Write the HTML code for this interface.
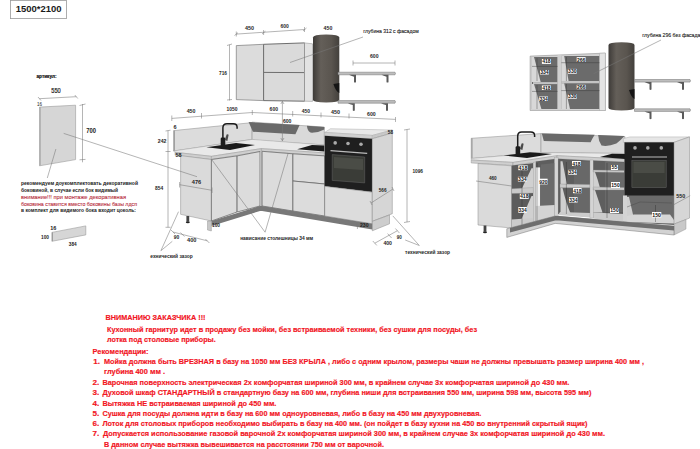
<!DOCTYPE html>
<html><head><meta charset="utf-8">
<style>
html,body{margin:0;padding:0;background:#fff;}
body{width:700px;height:449px;overflow:hidden;}
svg{display:block;}
text{font-family:"Liberation Sans",sans-serif;}
.d{font-size:5.5px;fill:#1e1e1e;font-weight:bold;}
.r{font-size:8.1px;fill:#f2161f;font-weight:bold;stroke:#f2161f;stroke-width:0.18px;}
.ln{stroke:#777;stroke-width:0.55;fill:none;}
.pn{fill:#dadada;stroke:#8a8a8a;stroke-width:0.5;}
</style></head><body>
<svg width="700" height="449" viewBox="0 0 700 449">
<!-- top-left size box -->
<rect x="10.5" y="0.4" width="56" height="18.2" fill="#fff" stroke="#999" stroke-width="0.8"/>
<text x="15.8" y="12.4" font-size="9.9" font-weight="bold" fill="#1a1a1a" textLength="45.8" lengthAdjust="spacingAndGlyphs">1500*2100</text>

<!-- left panel -->
<text x="36.5" y="78" font-size="5" font-weight="bold" fill="#111" stroke="#111" stroke-width="0.2" textLength="20" lengthAdjust="spacingAndGlyphs">артикул:</text>
<text x="51.3" y="92.8" font-size="6.8" fill="#1a1a1a" stroke="#1a1a1a" stroke-width="0.2" textLength="9.4" lengthAdjust="spacingAndGlyphs">550</text>
<path class="ln" d="M39.3 98.7 L76.3 96.7 M38 97 L41 100.5 M74.8 95 L77.8 98.5"/>
<text x="37" y="106" font-size="4.5" fill="#222">16</text>
<polygon points="39.5,107.1 75.6,105.2 75.6,159.6 39.5,165.8" fill="#d6d6d6" stroke="#9a9a9a" stroke-width="0.6"/>
<path d="M39.5 107.1 L40.8 107 L40.8 165.6 L39.5 165.8 Z" fill="#acacac"/>
<path class="ln" d="M82.5 104 L82.5 162.3 M79.5 105.5 L85.5 104 M79.5 159.8 L85.5 159.4"/>
<text x="86.3" y="133" font-size="6.5" font-weight="bold" fill="#222" textLength="9.8" lengthAdjust="spacingAndGlyphs">700</text>
<path class="ln" d="M55.9 149 L47.3 178"/>
<g font-size="5.5" font-weight="bold">
<text x="21" y="185" fill="#1a1a1a" textLength="117" lengthAdjust="spacingAndGlyphs">рекомендуем доукомплектовать декоративной</text>
<text x="21" y="191.6" fill="#1a1a1a" textLength="97" lengthAdjust="spacingAndGlyphs">боковиной, в случае если бок видимый</text>
<text x="21" y="198.7" font-weight="normal" fill="#b8303e" stroke="#b8303e" stroke-width="0.1" textLength="105" lengthAdjust="spacingAndGlyphs">внимание!!! при монтаже декоративная</text>
<text x="21" y="205.5" font-weight="normal" fill="#b8303e" stroke="#b8303e" stroke-width="0.1" textLength="116" lengthAdjust="spacingAndGlyphs">боковина ставится вместо боковины базы лдсп</text>
<text x="21" y="211.5" fill="#1a1a1a" textLength="115" lengthAdjust="spacingAndGlyphs">в комплект для видимого бока входит цоколь:</text>
</g>
<polygon points="51.9,232.4 85.8,225.9 85.8,234.9 51.9,241.3" fill="#d6d6d6" stroke="#9a9a9a" stroke-width="0.6"/>
<path d="M51.9 232.4 L53 232.2 L53 241.1 L51.9 241.3 Z" fill="#9c9c9c"/>
<text x="50.2" y="230.4" font-size="5.5" font-weight="bold" fill="#222">16</text>
<text x="41" y="238.8" font-size="5.5" font-weight="bold" fill="#222" textLength="8" lengthAdjust="spacingAndGlyphs">100</text>
<text x="68.8" y="245.6" font-size="5.5" font-weight="bold" fill="#222" textLength="7.8" lengthAdjust="spacingAndGlyphs">384</text>


<!-- ===== CENTER KITCHEN ===== -->
<defs>
<linearGradient id="hood" x1="0" x2="1" y1="0" y2="0">
<stop offset="0" stop-color="#3e3b38"/><stop offset="0.3" stop-color="#645f59"/><stop offset="0.7" stop-color="#5a554f"/><stop offset="1" stop-color="#43403c"/>
</linearGradient>
</defs>
<!-- wall cabinets -->
<polygon points="236.3,45.6 263.6,44.3 263.6,100.6 236.3,99.6" fill="#dcdcdc" stroke="#7a7a7a" stroke-width="0.7"/>
<polygon points="263.6,44.3 304.5,42.9 304.5,101.2 263.6,100.6" fill="#dadada" stroke="#6e6e6e" stroke-width="1"/>
<path d="M263.6 72.4 L304.5 72.6" stroke="#6e6e6e" stroke-width="1"/>
<polygon points="304.5,42.9 312.5,43.8 312.5,101.4 304.5,101.2" fill="#e2e2e2" stroke="#888" stroke-width="0.5"/>
<!-- hood -->
<path d="M313 37.5 Q313 34.6 326.2 34.6 Q339.3 34.6 339.3 37.5 L339.3 100 Q339.3 102.4 326.2 102.4 Q313 102.4 313 100 Z" fill="url(#hood)"/>
<path d="M333.4 84 L339.3 83 L339.3 93 Q336 92 333.4 84 Z" fill="#151515"/>
<!-- shelves -->
<path d="M338 72.2 L395 72.2 L395.5 73.4 L395 74.8 L338 74.8 Z" fill="#bdbdbd" stroke="#6e6e6e" stroke-width="0.5"/>
<path d="M349 74.8 L356 74.8 L356 82.2 Q355 83.0 354 82.2 L354 76.7 Q351 75.8 349 74.8 Z" fill="#5a5a5a"/>
<path d="M381.5 74.8 L388.5 74.8 L388.5 82.2 Q387.5 83.0 386.5 82.2 L386.5 76.7 Q383.5 75.8 381.5 74.8 Z" fill="#5a5a5a"/>
<path d="M338 100.6 L395 100.6 L395.5 101.8 L395 103.19999999999999 L338 103.19999999999999 Z" fill="#bdbdbd" stroke="#6e6e6e" stroke-width="0.5"/>
<path d="M347.8 103.19999999999999 L354.8 103.19999999999999 L354.8 110.6 Q353.8 111.39999999999999 352.8 110.6 L352.8 105.1 Q349.8 104.19999999999999 347.8 103.19999999999999 Z" fill="#5a5a5a"/>
<path d="M381 103.19999999999999 L388 103.19999999999999 L388 110.6 Q387 111.39999999999999 386 110.6 L386 105.1 Q383 104.19999999999999 381 103.19999999999999 Z" fill="#5a5a5a"/>
<!-- wall dims -->
<path class="ln" d="M236.3 34.1 L304.5 29.5 M236.3 31.5 L236.3 36.5 M263.6 30 L263.6 35 M304.5 27 L304.5 32 M234.5 35.5 L238 32.7 M262 34 L265.5 31.2 M303 31 L306.5 28"/>
<text x="245" y="30.2" class="d" textLength="9" lengthAdjust="spacingAndGlyphs">450</text>
<text x="280.4" y="27.6" class="d" textLength="8.3" lengthAdjust="spacingAndGlyphs">600</text>
<text x="323.6" y="30.2" class="d" textLength="8.7" lengthAdjust="spacingAndGlyphs">450</text>
<path class="ln" d="M229.5 44.7 L229.5 100.5 M227 45.5 L232 44 M227 100 L232 99.5"/>
<text x="219" y="75" class="d" textLength="8" lengthAdjust="spacingAndGlyphs">716</text>
<text x="363.2" y="32.7" font-size="6" fill="#1a1a1a" stroke="#1a1a1a" stroke-width="0.12" textLength="55.5" lengthAdjust="spacingAndGlyphs">глубина 312 с фасадом</text>
<path class="ln" d="M363 37 L290 62.5"/>
<path class="ln" d="M353 63 L395 63 M353 60.5 L353 65.5 M395 60.5 L395 65.5"/>
<text x="370" y="58" class="d" textLength="8.5" lengthAdjust="spacingAndGlyphs">600</text>

<!-- base top dims -->
<path class="ln" d="M171.8 118.4 L252.3 112.5 L395.5 119.4 M171.8 115.5 L171.8 121 M201.5 113 L201.5 118.5 M252.3 110 L252.3 115 M292.7 111 L292.7 116.5 M321 112.5 L321 117.5 M349 113.5 L349 118.5 M395.5 117 L395.5 122"/>
<text x="186.7" y="113.4" class="d" textLength="8.8" lengthAdjust="spacingAndGlyphs">450</text>
<text x="226.4" y="110.9" class="d" textLength="11" lengthAdjust="spacingAndGlyphs">1050</text>
<text x="269.6" y="111" class="d" textLength="8.4" lengthAdjust="spacingAndGlyphs">600</text>
<text x="301.7" y="113" class="d" textLength="8.3" lengthAdjust="spacingAndGlyphs">450</text>
<text x="331" y="114.3" class="d" textLength="9" lengthAdjust="spacingAndGlyphs">450</text>
<text x="367" y="115.6" class="d" textLength="8.7" lengthAdjust="spacingAndGlyphs">600</text>

<!-- left backsplash -->
<polygon points="173.6,130.6 252.1,122.6 252.1,139.4 173.6,151" fill="#dcdcdc" stroke="#8a8a8a" stroke-width="0.5"/>
<path d="M173.6 130.6 L175 130.5 L175 151 L173.6 151 Z" fill="#a0a0a0"/>
<!-- back wall -->
<polygon points="252.1,122.1 324.3,127.1 324.3,145 252.1,140" fill="#d9d9d9" stroke="#888" stroke-width="0.5"/>
<path d="M248.6 122.1 L299.6 125.1 Q297.5 130 295.4 134.2 L252.9 131.8 Z" fill="#6a6a6a"/>
<path d="M306.9 125.7 L324.3 127 L324.3 129.5 Q318 133 310.5 132.6 Q307.3 130.5 306.9 125.7 Z" fill="#6a6a6a"/>
<!-- countertop surface -->
<polygon points="173.6,151 252.1,139.4 324.3,145 324.3,152.9 261.4,148.6 211.4,156.3 175,152.3" fill="#e9e9e9" stroke="#999" stroke-width="0.4"/>
<!-- countertop front faces -->
<polygon points="175,152.3 211.4,156.3 211.4,159.5 175,155.3" fill="#cfcfcf" stroke="#888" stroke-width="0.4"/>
<polygon points="211.4,156.3 261.4,148.6 261.4,151.5 211.4,159.5" fill="#cfcfcf" stroke="#888" stroke-width="0.4"/>
<polygon points="261.4,148.6 324.3,152.9 324.3,155.9 261.4,151.3" fill="#cfcfcf" stroke="#888" stroke-width="0.4"/>
<!-- sink -->
<polygon points="206.4,147.3 236,143 255,145 230,150" fill="#1a1a1a"/>
<!-- faucet -->
<path d="M222.9 144.4 L222.9 127.8 Q222.9 123.7 227 123.7 L233.3 123.7 Q237.1 123.7 237.1 127.2 L237.1 128.8" stroke="#1c1c1c" stroke-width="1.5" fill="none"/>
<rect x="220.7" y="137.5" width="4.6" height="8.5" rx="1.2" fill="#1c1c1c"/>
<path d="M224.8 140 L226.6 134.5 Q227.8 133.8 228.6 134.8 L227.4 141 Z" fill="#4a4a4a"/>
<!-- hob -->
<polygon points="297.1,149.3 312,145 324.3,145.5 324.3,151.4" fill="#1a1a1a"/>
<!-- base cabinets -->
<polygon points="180.6,155.6 211.4,159.5 211.4,221 180.6,214.3" fill="#dadada" stroke="#8a8a8a" stroke-width="0.5"/>
<polygon points="211.4,159.5 237.1,155.9 237.1,212 211.4,221" fill="#dcdcdc" stroke="#656565" stroke-width="0.75"/>
<polygon points="237.1,155.9 260,151.5 260,206 237.1,212" fill="#dcdcdc" stroke="#656565" stroke-width="0.75"/>
<polygon points="260,151.5 262.1,151.5 262.1,206 260,206" fill="#bdbdbd"/>
<polygon points="262.1,151.3 292.9,153.8 292.9,211 262.1,206" fill="#dcdcdc" stroke="#656565" stroke-width="0.75"/>
<polygon points="292.9,153.8 324.7,155.9 324.7,184 292.9,181" fill="#dcdcdc" stroke="#656565" stroke-width="0.75"/>
<polygon points="292.9,181 324.7,184 324.7,216 292.9,211" fill="#dcdcdc" stroke="#656565" stroke-width="0.75"/>
<!-- oven column -->
<polygon points="324.7,132.4 330.5,128.7 392.3,130 372.3,135.4" fill="#e8e8e8" stroke="#999" stroke-width="0.4"/>
<polygon points="324.7,132.4 372.3,135.4 372.3,138.7 324.7,135.7" fill="#d0d0d0" stroke="#999" stroke-width="0.3"/>
<polygon points="372.3,135.4 392.3,130 392.3,133 372.3,138.7" fill="#c8c8c8" stroke="#999" stroke-width="0.3"/>
<polygon points="324.7,135.7 372.3,138.7 372.3,192.1 324.7,186.3" fill="#1f1f1f"/>
<polygon points="332.2,154.6 364.7,157 364.7,182.9 332.2,180.4" fill="#3a3c37" stroke="#666" stroke-width="0.5"/>
<polygon points="334,157 363,159 363,170 334,168" fill="#4a4c46"/>
<path d="M330.5 150.7 L367.2 153.4" stroke="#bbb" stroke-width="1.2"/>
<circle cx="335.2" cy="142.9" r="1.8" fill="#aaa"/><circle cx="348" cy="143.5" r="1.8" fill="#aaa"/><circle cx="361" cy="144.3" r="1.8" fill="#aaa"/>
<polygon points="324.7,186.3 372.3,192.1 372.3,223.8 324.7,216" fill="#dcdcdc" stroke="#777" stroke-width="0.5"/>
<polygon points="372.3,138.7 392.3,133 392.3,213.7 372.3,221.3" fill="#d6d6d6" stroke="#888" stroke-width="0.5"/>
<polygon points="372.3,221.3 389.5,215 389.5,223.8 372.3,230.8" fill="#cdcdcd" stroke="#888" stroke-width="0.5"/>
<!-- plinth -->
<polygon points="211.4,221 260,206 262.1,206 372.3,223.8 372.3,229.5 262.1,211 260,211 211.4,226" fill="#787878"/>
<polygon points="207.5,221 211.4,221 211.4,231 207.5,230" fill="#c8c8c8" stroke="#888" stroke-width="0.4"/>
<rect x="186.4" y="216" width="2.8" height="5.5" fill="#444"/><ellipse cx="187.8" cy="222.3" rx="2" ry="1" fill="#222"/>
<!-- base dims -->
<path class="ln" d="M63.7 133.4 L197 176.7"/>
<path class="ln" d="M282.4 101.4 L282.4 140.7 M280.8 104 L282.4 101.4 L284 104 M280.8 138 L282.4 140.7 L284 138"/>
<text x="282.9" y="122.9" class="d" textLength="8.5" lengthAdjust="spacingAndGlyphs">600</text>
<path class="ln" d="M168 130.6 L168 227.3 M165.5 131 L170.5 130.2 M165.5 151.5 L170.5 151.5 M165.5 227.3 L170.5 227.3"/>
<text x="173.4" y="129" class="d">6</text>
<text x="157.8" y="142.6" class="d" textLength="8.6" lengthAdjust="spacingAndGlyphs">242</text>
<text x="175.5" y="156.5" class="d" font-size="4.5">58</text>
<text x="155.1" y="189.6" class="d" textLength="8.1" lengthAdjust="spacingAndGlyphs">854</text>
<path class="ln" d="M179.6 184.7 L212 190.3 M179.6 182 L179.6 187.5 M212 187.5 L212 193"/>
<text x="191.8" y="183.9" class="d" textLength="9.4" lengthAdjust="spacingAndGlyphs">476</text>
<text x="212" y="226.8" class="d" textLength="8" lengthAdjust="spacingAndGlyphs">100</text>
<path class="ln" d="M173 232 L207.4 240.9 M171 230 L175 234 M180.4 232.5 L184.4 236.5 M205.4 239 L209.4 243"/>
<text x="173.8" y="239" class="d" textLength="5.5" lengthAdjust="spacingAndGlyphs">90</text>
<text x="187" y="242.4" class="d" textLength="9.4" lengthAdjust="spacingAndGlyphs">400</text>
<path class="ln" d="M178.5 211.7 L160.9 250.7 L172.3 241.3"/>
<text x="150.3" y="257.9" class="d" textLength="42.4" lengthAdjust="spacingAndGlyphs">ехнический зазор</text>
<path class="ln" d="M212 160 L265.1 232.2 L288.2 153"/>
<text x="240.2" y="239.6" class="d" textLength="73" lengthAdjust="spacingAndGlyphs">нависание столешницы 34 мм</text>
<text x="387.8" y="134.3" class="d" textLength="5.2" lengthAdjust="spacingAndGlyphs">58</text>
<path class="ln" d="M407 129.6 L407 222.1 M404 130 L410 129 M404 222.5 L410 221.5"/>
<text x="412.4" y="172.7" class="d" textLength="10.6" lengthAdjust="spacingAndGlyphs">1096</text>
<path class="ln" d="M371 203 L393 189 M370 201 L372 205 M392 187 L394 191"/>
<text x="378.7" y="191.7" class="d" textLength="7.8" lengthAdjust="spacingAndGlyphs">566</text>
<text x="360" y="227" class="d" textLength="8.6" lengthAdjust="spacingAndGlyphs">230</text>
<path class="ln" d="M357.4 222 L357.4 229"/>
<path class="ln" d="M374.8 243.2 L397.4 230.7 M372.8 241 L376.8 245.4 M387.6 233.6 L391.6 238 M395.4 228.5 L399.4 233"/>
<text x="396.7" y="239.3" class="d" textLength="5.1" lengthAdjust="spacingAndGlyphs">90</text>
<text x="383.4" y="245.2" class="d" textLength="8.6" lengthAdjust="spacingAndGlyphs">400</text>
<path class="ln" d="M392.8 215.9 L419.3 245.5 L405.2 240"/>
<text x="405.1" y="253.8" class="d" textLength="45" lengthAdjust="spacingAndGlyphs">технический зазор</text>


<!-- ===== RIGHT KITCHEN ===== -->
<!-- open wall cabinets -->
<polygon points="530.1,56.1 605.4,53.1 605.4,110.5 530.1,110.5" fill="#d2d2d2" stroke="#888" stroke-width="0.5"/>
<rect x="531.9" y="57" width="25.7" height="52" fill="#6b6b6b"/>
<rect x="561.3" y="56" width="38.2" height="53" fill="#6b6b6b"/>
<polygon points="531.9,57 534,57 540.7,82 531.9,82" fill="#d8d8d8"/>
<polygon points="531.9,84 534,84 541.4,109 531.9,109" fill="#d8d8d8"/>
<polygon points="561.3,56 564.2,56 568.6,81 561.3,81" fill="#d8d8d8"/>
<polygon points="561.3,83.3 564.2,83.3 570,109 561.3,109" fill="#d8d8d8"/>
<rect x="533" y="82.1" width="24.6" height="2" fill="#c4c4c4"/>
<rect x="561.3" y="81" width="38" height="2.3" fill="#c4c4c4"/>
<rect x="557.6" y="55" width="3.7" height="55" fill="#d0d0d0"/>
<polygon points="599.5,53.3 605.4,53.1 605.4,110.5 599.5,110.5" fill="#e4e4e4" stroke="#999" stroke-width="0.4"/>
<path d="M532 66.4 L557.6 66.4 M532 91.4 L557.6 91.4 M561.3 62.7 L599.5 62.7 M561.3 90.6 L599.5 90.6 M537 58 L537 81 M537 85 L537 109 M566.4 57 L566.4 81 M566.4 84 L566.4 109" stroke="#333" stroke-width="0.4"/>
<g font-size="5.2" font-weight="bold" fill="#111">
<rect x="541.9" y="59" width="9.1" height="4.9" fill="#fff"/><text x="542.2" y="63.3" textLength="8.5" lengthAdjust="spacingAndGlyphs">418</text>
<rect x="540" y="70" width="8.8" height="4.5" fill="#fff"/><text x="540.2" y="74" textLength="8.4" lengthAdjust="spacingAndGlyphs">334</text>
<rect x="541.9" y="85.5" width="9.1" height="4.5" fill="#fff"/><text x="542.2" y="89.6" textLength="8.5" lengthAdjust="spacingAndGlyphs">418</text>
<rect x="539.2" y="96.5" width="8.8" height="4.5" fill="#fff"/><text x="539.4" y="100.6" textLength="8.4" lengthAdjust="spacingAndGlyphs">334</text>
<rect x="576.7" y="57.1" width="8.9" height="4.9" fill="#fff"/><text x="577" y="61.5" textLength="8.4" lengthAdjust="spacingAndGlyphs">266</text>
<rect x="567.9" y="68.9" width="8.8" height="4.8" fill="#fff"/><text x="568.1" y="73.2" textLength="8.4" lengthAdjust="spacingAndGlyphs">330</text>
<rect x="576.7" y="84.8" width="8.9" height="4.4" fill="#fff"/><text x="577" y="88.8" textLength="8.4" lengthAdjust="spacingAndGlyphs">266</text>
<rect x="567.9" y="94.3" width="8.8" height="4.4" fill="#fff"/><text x="568.1" y="98.3" textLength="8.4" lengthAdjust="spacingAndGlyphs">330</text>
</g>
<!-- hood right -->
<path d="M608.5 45 Q608.5 42.2 621.5 42.2 Q634.5 42.2 634.5 45 L634.5 108 Q634.5 110.4 621.5 110.4 Q608.5 110.4 608.5 108 Z" fill="url(#hood)"/>
<path d="M629 90 L634.5 89 L634.5 99 Q631.5 98 629 90 Z" fill="#151515"/>
<text x="642.3" y="36.9" font-size="6" fill="#1a1a1a" stroke="#1a1a1a" stroke-width="0.12" textLength="58" lengthAdjust="spacingAndGlyphs">глубина 296 без фасада</text>
<path class="ln" d="M661 40 L593.6 73.7"/>
<!-- shelves right -->
<path d="M634.5 79.5 L690 79.5 L690.5 80.7 L690 82.1 L634.5 82.1 Z" fill="#bdbdbd" stroke="#6e6e6e" stroke-width="0.5"/>
<path d="M644.5 82.1 L651.5 82.1 L651.5 89.5 Q650.5 90.3 649.5 89.5 L649.5 84.0 Q646.5 83.1 644.5 82.1 Z" fill="#5a5a5a"/>
<path d="M677 82.1 L684 82.1 L684 89.5 Q683 90.3 682 89.5 L682 84.0 Q679 83.1 677 82.1 Z" fill="#5a5a5a"/>
<path d="M634.5 108.8 L690 108.8 L690.5 110.0 L690 111.39999999999999 L634.5 111.39999999999999 Z" fill="#bdbdbd" stroke="#6e6e6e" stroke-width="0.5"/>
<path d="M644.5 111.39999999999999 L651.5 111.39999999999999 L651.5 118.8 Q650.5 119.6 649.5 118.8 L649.5 113.3 Q646.5 112.39999999999999 644.5 111.39999999999999 Z" fill="#5a5a5a"/>
<path d="M677 111.39999999999999 L684 111.39999999999999 L684 118.8 Q683 119.6 682 118.8 L682 113.3 Q679 112.39999999999999 677 111.39999999999999 Z" fill="#5a5a5a"/>

<!-- left backsplash right -->
<polygon points="471.2,138.3 541,133.6 541,152.5 471.2,158.5" fill="#dcdcdc" stroke="#8a8a8a" stroke-width="0.5"/>
<path d="M471.2 138.3 L472.6 138.2 L472.6 158.4 L471.2 158.5 Z" fill="#a0a0a0"/>
<!-- back wall right -->
<polygon points="541,133.6 625,136.7 625,153.5 541,152.5" fill="#d9d9d9" stroke="#888" stroke-width="0.5"/>
<path d="M541.8 133.4 L594.7 134.8 Q592 139 590.6 142.2 L543.8 140.9 Z" fill="#6a6a6a"/>
<path d="M598.1 135 L624.6 136.1 Q620 141 616.4 143.6 Q608 147 601.5 145.6 Q598.5 141 598.1 135 Z" fill="#6a6a6a"/>
<!-- countertop -->
<polygon points="471.2,158.5 541,152.5 625,153.5 625,159 557,155.7 513,162.4 471.2,160" fill="#e9e9e9" stroke="#999" stroke-width="0.4"/>
<polygon points="471.2,160 513,162.4 513,165.5 471.2,163" fill="#cfcfcf" stroke="#888" stroke-width="0.4"/>
<polygon points="513,162.4 557,155.7 557,158.8 513,165.5" fill="#cfcfcf" stroke="#888" stroke-width="0.4"/>
<polygon points="557,155.7 625,159 625,162 557,158.8" fill="#cfcfcf" stroke="#888" stroke-width="0.4"/>
<polygon points="503.7,155.4 530,152.2 552,154 527,158" fill="#1a1a1a"/>
<path d="M517.7 154.6 L517.7 136.2 Q517.7 132 521.8 132 L530.8 132 Q534.6 132 534.6 135.5 L534.6 137" stroke="#1c1c1c" stroke-width="1.5" fill="none"/>
<rect x="515.6" y="146.2" width="4.6" height="9" rx="1.2" fill="#1c1c1c"/>
<path d="M519.8 149 L521.6 143.5 Q522.8 142.8 523.6 143.8 L522.4 150 Z" fill="#4a4a4a"/>
<polygon points="600,157 612,153.8 625,154 625,159" fill="#1a1a1a"/>
<!-- left end panel -->
<polygon points="478,163.5 511.6,165.8 511.6,228 478,225" fill="#dadada" stroke="#8a8a8a" stroke-width="0.5"/>
<rect x="483.6" y="225.5" width="2.8" height="6" fill="#444"/><ellipse cx="485" cy="232.3" rx="2" ry="1" fill="#222"/>
<!-- corner open cabinet -->
<polygon points="511.6,165.5 533.4,163 533.4,224 511.6,228" fill="#5c5c5c"/>
<polygon points="531.5,168.3 533.4,168.3 533.4,189.7 521.3,189.7" fill="#d0d0d0"/>
<polygon points="531.5,196 533.4,196 533.4,219.6 521.3,219.6" fill="#d0d0d0"/>
<polygon points="511.6,188.8 533.4,187.5 533.4,193.1 511.6,193.5" fill="#cacaca" stroke="#888" stroke-width="0.3"/>
<polygon points="511.6,219.6 533.4,218 533.4,224 511.6,228" fill="#cccccc"/>
<rect x="533.4" y="162.5" width="2.4" height="62" fill="#d2d2d2" stroke="#999" stroke-width="0.3"/>
<polygon points="535.8,161.5 554.7,159 554.7,218 535.8,224" fill="#5e5e5e"/>
<polygon points="541,164.5 554.7,163 554.7,206.8 541,206.8" fill="#6a6a6a"/>
<rect x="535.8" y="167.4" width="4.3" height="38.6" fill="#f0f0f0"/>
<polygon points="535.8,206 554.7,205 554.7,218 535.8,224" fill="#d4d4d4"/>
<rect x="554.7" y="157.5" width="3.4" height="60" fill="#d4d4d4" stroke="#999" stroke-width="0.3"/>
<!-- right run open cabinets -->
<polygon points="558.1,158.8 590,160.5 590,217 558.1,214" fill="#5e5e5e"/>
<polygon points="574,161 590,161.5 590,184 574,184" fill="#686868"/>
<polygon points="574,188 590,188 590,213 574,213" fill="#686868"/>
<path d="M560.5 161.2 L562.5 161.2 Q565 175 567 184 L560.5 184 Z" fill="#d0d0d0"/>
<path d="M560.5 187.8 L562.5 187.8 Q566 203 570.6 213.5 L560.5 213.5 Z" fill="#d0d0d0"/>
<polygon points="560,184 590,184.5 590,187.8 560,187.8" fill="#cacaca" stroke="#888" stroke-width="0.3"/>
<polygon points="560,212 590,213 590,217.5 558.1,215" fill="#cccccc"/>
<rect x="590" y="160" width="3.2" height="58" fill="#d4d4d4" stroke="#999" stroke-width="0.3"/>
<polygon points="593.2,160.5 624.5,162 624.5,221 593.2,218" fill="#5e5e5e"/>
<polygon points="605,162 624.5,162.5 624.5,212 605,212" fill="#6a6a6a"/>
<path d="M593.2 172 L595 172 Q598 180 600 188 L593.2 188 Z" fill="#d0d0d0"/>
<path d="M593.2 190 L595 190 Q599 202 602.5 212.5 L593.2 212.5 Z" fill="#d0d0d0"/>
<polygon points="593.2,170 624.5,170.5 624.5,172.5 593.2,172" fill="#c8c8c8" stroke="#888" stroke-width="0.3"/>
<polygon points="593.2,187 624.5,187.5 624.5,190 593.2,190" fill="#c8c8c8" stroke="#888" stroke-width="0.3"/>
<polygon points="593.2,212.5 624.5,214 624.5,221.5 593.2,218.5" fill="#cccccc"/>
<!-- oven column right -->
<polygon points="623.3,138.6 630,136.9 689.5,136.9 674,142.3 623.3,142.3" fill="#e6e6e6" stroke="#999" stroke-width="0.4"/>
<rect x="624.5" y="142.3" width="49.5" height="53.9" fill="#1f1f1f"/>
<rect x="631.9" y="160.6" width="34.3" height="27" fill="#3a3c37" stroke="#666" stroke-width="0.5"/>
<rect x="633.5" y="162" width="31" height="11" fill="#4a4c46"/>
<path d="M632 157 L667 157" stroke="#bbb" stroke-width="1.2"/>
<circle cx="635" cy="147.9" r="1.8" fill="#aaa"/><circle cx="647.8" cy="147.9" r="1.8" fill="#aaa"/><circle cx="661.3" cy="147.9" r="1.8" fill="#aaa"/>
<polygon points="624.5,195.5 674,195.5 674,225 624.5,222" fill="#6a6a6a"/>
<rect x="623" y="195.5" width="4" height="27" fill="#d4d4d4"/>
<polygon points="627,197 629,197 634,219 627,219" fill="#d0d0d0"/>
<polygon points="627,216 634,214.5 670,214.5 674,220 674,223.5 627,222" fill="#d6d6d6"/>
<path d="M627 207 L640 202 L672 203" stroke="#444" stroke-width="0.4" fill="none"/>
<polygon points="674,142.3 689.5,136.9 689.5,218.1 674,224.1" fill="#d6d6d6" stroke="#888" stroke-width="0.5"/>
<polygon points="674,224.1 686,219.5 686,229 674,235" fill="#c9c9c9" stroke="#888" stroke-width="0.4"/>
<path d="M537 163 L537 225 M566.4 162 L566.4 214 M522 166 L522 225 M607 163 L607 218 M655.5 205 L655.5 222" stroke="#222" stroke-width="0.35"/>
<!-- plinth right -->
<polygon points="506.8,228.8 555.2,216 624.5,222 674,226.1 674,235 624.5,230 555.2,223.4 506.8,237.4" fill="#d2d2d2" stroke="#777" stroke-width="0.5"/>
<polygon points="510,228 555.2,216 559,216 674,226.1 674,230.5 559,220.5 555.2,220.5 510,232.5" fill="#6e6e6e"/>
<g font-size="5.2" font-weight="bold" fill="#111">
<rect x="518.3" y="165.4" width="9.4" height="4.8" fill="#fff"/><text x="518.6" y="169.6" textLength="8.8" lengthAdjust="spacingAndGlyphs">418</text>
<rect x="517.9" y="176.8" width="8.9" height="4.7" fill="#fff"/><text x="518.1" y="180.9" textLength="8.5" lengthAdjust="spacingAndGlyphs">334</text>
<rect x="539" y="178.7" width="8.6" height="5.7" fill="#fff"/><text x="539.2" y="183.5" textLength="8.2" lengthAdjust="spacingAndGlyphs">920</text>
<rect x="519.8" y="193.8" width="8.9" height="5.1" fill="#fff"/><text x="520" y="198.3" textLength="8.5" lengthAdjust="spacingAndGlyphs">418</text>
<rect x="518.3" y="207" width="8.5" height="5.8" fill="#fff"/><text x="518.5" y="211.8" textLength="8.1" lengthAdjust="spacingAndGlyphs">334</text>
<rect x="572" y="161" width="8.8" height="5" fill="#fff"/><text x="572.2" y="165.5" textLength="8.4" lengthAdjust="spacingAndGlyphs">418</text>
<rect x="568.3" y="169.8" width="8.6" height="4.9" fill="#fff"/><text x="568.5" y="174.3" textLength="8.2" lengthAdjust="spacingAndGlyphs">334</text>
<rect x="573" y="188" width="8.6" height="5.2" fill="#fff"/><text x="573.2" y="192.7" textLength="8.2" lengthAdjust="spacingAndGlyphs">418</text>
<rect x="569" y="197.2" width="8.6" height="5.3" fill="#fff"/><text x="569.2" y="202" textLength="8.2" lengthAdjust="spacingAndGlyphs">334</text>
<rect x="611" y="165" width="7" height="5" fill="#fff"/><text x="611.5" y="169.3" textLength="6" lengthAdjust="spacingAndGlyphs">55</text>
<rect x="611" y="182" width="9" height="6" fill="#fff"/><text x="611.3" y="187" textLength="8.4" lengthAdjust="spacingAndGlyphs">150</text>
<rect x="610" y="208" width="9" height="5" fill="#fff"/><text x="610.3" y="212.4" textLength="8.4" lengthAdjust="spacingAndGlyphs">150</text>
<rect x="652" y="212" width="9.3" height="5.5" fill="#fff"/><text x="652.3" y="216.7" textLength="8.7" lengthAdjust="spacingAndGlyphs">150</text>
</g>
<text x="488.9" y="180.4" class="d" textLength="7.8" lengthAdjust="spacingAndGlyphs">460</text>
<path class="ln" d="M476 181 L511.6 186"/>
<text x="676.2" y="197.5" class="d" textLength="9" lengthAdjust="spacingAndGlyphs">550</text>
<path class="ln" d="M673.5 204.8 L690.2 195.7"/>

<!-- bottom red text -->
<g class="r">
<text x="105.5" y="320.3" textLength="100" lengthAdjust="spacingAndGlyphs">ВНИМАНИЮ ЗАКАЗЧИКА !!!</text>
<text x="107" y="331.7" textLength="370" lengthAdjust="spacingAndGlyphs">Кухонный гарнитур идет в продажу без мойки, без встраиваемой техники, без сушки для посуды, без</text>
<text x="107" y="342.0" textLength="108.7" lengthAdjust="spacingAndGlyphs">лотка под столовые приборы.</text>
<text x="92.6" y="354.1" textLength="56" lengthAdjust="spacingAndGlyphs">Рекомендации:</text>
<text x="93.3" y="364.4">1.</text>
<text x="104" y="364.4" textLength="540" lengthAdjust="spacingAndGlyphs">Мойка должна быть ВРЕЗНАЯ в базу на 1050 мм БЕЗ КРЫЛА , либо с одним крылом, размеры чаши  не должны превышать размер ширина  400  мм ,</text>
<text x="104" y="374.0" textLength="61" lengthAdjust="spacingAndGlyphs">глубина  400 мм .</text>
<text x="92.6" y="385.0">2.</text>
<text x="102.4" y="385.0" textLength="467" lengthAdjust="spacingAndGlyphs">Варочная поверхность электрическая 2х комфорчатая  шириной 300 мм,  в крайнем случае 3х комфорчатая шириной до  430 мм.</text>
<text x="92.6" y="395.3">3.</text>
<text x="102.4" y="395.3" textLength="489" lengthAdjust="spacingAndGlyphs">Духовой шкаф СТАНДАРТНЫЙ в стандартную базу на 600 мм, глубина ниши для встраивания 550 мм, ширина 598 мм, высота 595 мм)</text>
<text x="92.6" y="406.0">4.</text>
<text x="102.4" y="406.0" textLength="174" lengthAdjust="spacingAndGlyphs">Вытяжка НЕ встраиваемая шириной до 450 мм.</text>
<text x="92.6" y="416.4">5.</text>
<text x="102.4" y="416.4" textLength="379" lengthAdjust="spacingAndGlyphs">Сушка для посуды должна идти в базу на 600 мм  одноуровневая, либо в базу на 450 мм двухуровневая.</text>
<text x="92.6" y="426.1">6.</text>
<text x="102.4" y="426.1" textLength="485" lengthAdjust="spacingAndGlyphs">Лоток для столовых приборов необходимо выбирать в базу на 400 мм. (он пойдет в базу кухни на 450 во внутренний скрытый ящик)</text>
<text x="92.6" y="436.4">7.</text>
<text x="103" y="436.4" textLength="502" lengthAdjust="spacingAndGlyphs">Допускается использование газовой варочной 2х комфорчатая  шириной 300 мм,  в крайнем случае 3х комфорчатая шириной до  430 мм.</text>
<text x="104" y="446.7" textLength="280" lengthAdjust="spacingAndGlyphs">В данном случае вытяжка вывешивается на расстоянии 750 мм от варочной.</text>
</g>
</svg>
</body></html>
